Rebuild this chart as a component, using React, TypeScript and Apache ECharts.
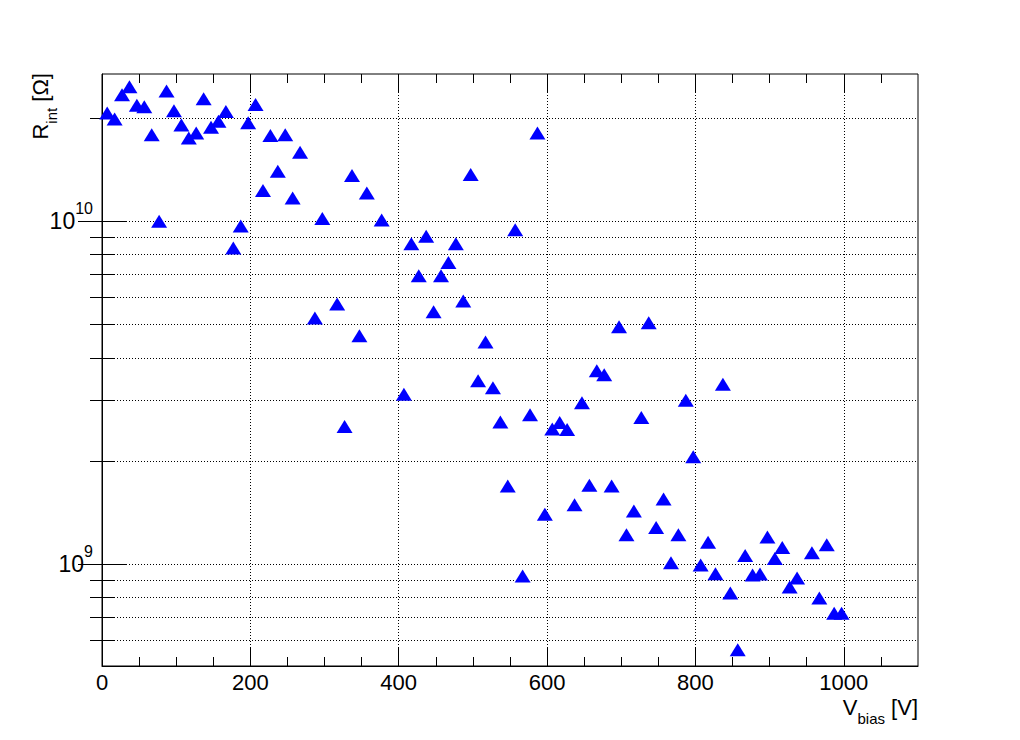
import React, { useEffect, useRef } from "react";
import * as echarts from "echarts";

// Bias voltage [V] of each measurement
const vbias: number[] = [
  7, 17, 27, 37, 47, 57, 67, 77, 87, 97, 107, 117, 127, 137, 147, 157, 167, 177, 187, 197,
  207, 217, 227, 237, 247, 257, 267, 287, 297, 317, 327, 337, 347, 357, 377,
  407, 417, 427, 437, 447, 457, 467, 477, 487, 497, 507, 517, 527, 537, 547, 557, 567, 577, 587,
  597, 607, 617, 627, 637, 647, 657, 667, 677, 687, 697, 707, 717, 727, 737, 747, 757, 767, 777,
  787, 797, 807, 817, 827, 837, 847, 857, 867, 877, 887, 897, 907, 917, 927, 937,
  957, 967, 977, 987, 997,
];

// Interstrip resistance [Ohm]
const rint: number[] = [
  2.07e10, 1.99e10, 2.34e10, 2.47e10, 2.18e10, 2.16e10, 1.79e10, 1.0e10, 2.4e10, 2.1e10,
  1.91e10, 1.75e10, 1.81e10, 2.28e10, 1.88e10, 1.96e10, 2.09e10, 8.36e9, 9.69e9, 1.94e10,
  2.19e10, 1.23e10, 1.78e10, 1.4e10, 1.79e10, 1.17e10, 1.59e10, 5.23e9, 1.02e10, 5.74e9,
  2.52e9, 1.36e10, 4.64e9, 1.21e10, 1.01e10,
  3.13e9, 8.6e9, 6.94e9, 9.05e9, 5.45e9, 6.94e9, 7.58e9, 8.6e9, 5.86e9, 1.37e10,
  3.43e9, 4.45e9, 3.27e9, 2.6e9, 1.69e9, 9.45e9, 9.24e8, 2.73e9, 1.81e10, 1.4e9,
  2.48e9, 2.59e9, 2.47e9, 1.49e9, 2.96e9, 1.7e9, 3.67e9, 3.57e9, 1.69e9, 4.93e9,
  1.22e9, 1.43e9, 2.68e9, 5.06e9, 1.28e9, 1.55e9, 1.01e9, 1.22e9, 3.01e9, 2.06e9,
  9.95e8, 1.16e9, 9.38e8, 3.35e9, 8.25e8, 5.63e8, 1.06e9, 9.31e8, 9.37e8, 1.2e9,
  1.04e9, 1.12e9, 8.59e8, 9.12e8,
  1.08e9, 7.97e8, 1.14e9, 7.2e8, 7.2e8,
];

const xMajorTicks = [0, 200, 400, 600, 800, 1000];
const xMinorTicks = [50, 100, 150, 250, 300, 350, 450, 500, 550, 650, 700, 750, 850, 900, 950, 1050];
const yMajorTicks = [1e9, 1e10];
const yMinorTicks = [6e8, 7e8, 8e8, 9e8, 2e9, 3e9, 4e9, 5e9, 6e9, 7e9, 8e9, 9e9, 2e10];

const X_MIN = 0;
const X_MAX = 1100;
const Y_MIN = 5.05e8;
const Y_MAX = 2.69e10;

const FONT = "'Liberation Sans', Arial, Helvetica, sans-serif";

export default function App() {
  const ref = useRef<HTMLDivElement>(null);

  useEffect(() => {
    const chart = echarts.init(ref.current!, null, { renderer: "svg" });
    const dotted = { color: "#000", width: 1, type: [1, 2] as number[] };

    const xAxis = (position: string, ticks: number[], len: number, labels: boolean, split: boolean) => ({
      type: "value",
      position,
      min: X_MIN,
      max: X_MAX,
      axisLine: { show: position === "bottom" && labels, lineStyle: { color: "#000", width: 1 } },
      axisTick: { show: true, inside: true, length: len, customValues: ticks, lineStyle: { color: "#000", width: 1 } },
      axisLabel: {
        show: labels,
        customValues: ticks,
        formatter: (v: number) => String(v),
        fontSize: 22,
        lineHeight: 22,
        fontFamily: FONT,
        color: "#000",
        margin: 5,
      },
      splitLine: { show: split, lineStyle: dotted },
    });

    const yAxis = (position: string, ticks: number[], len: number, labels: boolean, split: boolean) => ({
      type: "log",
      logBase: 10,
      position,
      min: Y_MIN,
      max: Y_MAX,
      axisLine: { show: position === "left" && labels, lineStyle: { color: "#000", width: 1 } },
      axisTick: { show: true, inside: true, length: len, customValues: ticks, lineStyle: { color: "#000", width: 1 } },
      axisLabel: {
        show: labels,
        customValues: ticks,
        margin: 9,
        formatter: (v: number) => `{b|10}{s|${Math.round(Math.log10(v))}}`,
        rich: {
          b: { fontSize: 23, fontFamily: FONT, color: "#000", verticalAlign: "top", padding: [9, 0, 9, 0] },
          s: { fontSize: 16, fontFamily: FONT, color: "#000", verticalAlign: "top" },
        },
      },
      splitLine: { show: split, lineStyle: dotted },
    });

    chart.setOption({
      animation: false,
      backgroundColor: "#fff",
      grid: {
        left: 102,
        top: 74,
        width: 816,
        height: 592,
        show: true,
        borderColor: "#000",
        borderWidth: 1,
        backgroundColor: "transparent",
      },
      xAxis: [
        xAxis("bottom", xMajorTicks, 19, true, true),
        xAxis("bottom", xMinorTicks, 9, false, false),
        xAxis("top", xMajorTicks, 19, false, false),
        xAxis("top", xMinorTicks, 9, false, false),
      ],
      yAxis: [
        yAxis("left", yMajorTicks, 24, true, true),
        yAxis("left", yMinorTicks, 12, false, true),
        yAxis("right", yMajorTicks, 24, false, false),
        yAxis("right", yMinorTicks, 12, false, false),
      ],
      graphic: [
        {
          type: "text",
          x: 44,
          y: 73,
          rotation: Math.PI / 2,
          style: {
            text: "{a|R}{b|int}{a| [Ω]}",
            align: "right",
            verticalAlign: "middle",
            rich: {
              a: { fontSize: 22, fontFamily: FONT, fill: "#000", verticalAlign: "top" },
              b: { fontSize: 15, fontFamily: FONT, fill: "#000", verticalAlign: "top", padding: [15, 0, 0, 0] },
            },
          },
        },
        {
          type: "text",
          x: 918,
          y: 711,
          style: {
            text: "{a|V}{b|bias}{a| [V]}",
            align: "right",
            verticalAlign: "middle",
            rich: {
              a: { fontSize: 22, fontFamily: FONT, fill: "#000", verticalAlign: "top" },
              b: { fontSize: 15, fontFamily: FONT, fill: "#000", verticalAlign: "top", padding: [15, 0, 0, 0] },
            },
          },
        },
      ],
      series: [
        {
          type: "scatter",
          xAxisIndex: 0,
          yAxisIndex: 0,
          symbol: "triangle",
          symbolSize: [16, 13],
          itemStyle: { color: "#0000ff", opacity: 1 },
          z: 5,
          data: vbias.map((v, i) => [v, rint[i]]),
        },
      ],
    });

    return () => chart.dispose();
  }, []);

  return <div ref={ref} style={{ position: "absolute", left: 0, top: 0, width: 1020, height: 740 }} />;
}
